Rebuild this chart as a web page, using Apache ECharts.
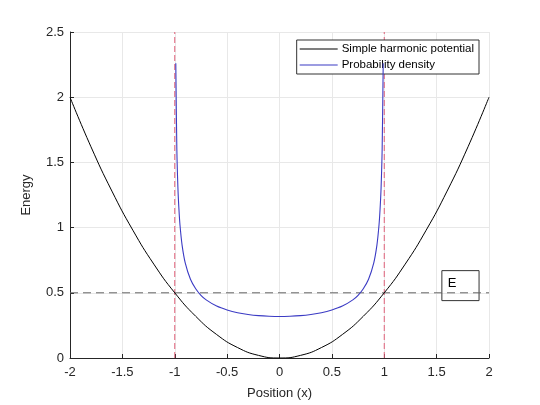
<!DOCTYPE html>
<html><head><meta charset="utf-8">
<script src="https://cdn.jsdelivr.net/npm/echarts@6/dist/echarts.min.js"></script>
<style>html,body{margin:0;padding:0;background:#fff}#c{width:540px;height:405px}</style>
</head><body><div id="c"></div>
<script>
// Simple harmonic potential
const potX = [-2,-1.8,-1.6,-1.4,-1.2,-1,-0.8,-0.6,-0.4,-0.2,0,0.2,0.4,0.6,0.8,1,1.2,1.4,1.6,1.8,2];
const potY = [2,1.62,1.28,0.98,0.72,0.5,0.32,0.18,0.08,0.02,0,0.02,0.08,0.18,0.32,0.5,0.72,0.98,1.28,1.62,2];
// Probability density
const denX = [-0.99,-0.98,-0.97,-0.96,-0.95,-0.93,-0.9,-0.85,-0.8,-0.75,-0.7,-0.6,-0.5,-0.4,-0.3,-0.2,-0.1,0,0.1,0.2,0.3,0.4,0.5,0.6,0.7,0.75,0.8,0.85,0.9,0.93,0.95,0.96,0.97,0.98,0.99];
const denY = [2.26,1.60,1.31,1.14,1.02,0.866,0.730,0.604,0.531,0.481,0.446,0.398,0.368,0.347,0.334,0.325,0.320,0.318,0.320,0.325,0.334,0.347,0.368,0.398,0.446,0.481,0.531,0.604,0.730,0.866,1.02,1.14,1.31,1.60,2.26];
// Reference lines
const turningPoints = [-1, 1];
const energyLevel = 0.5;
const xRange = [-2, 2];
const yRange = [0, 2.5];
const xTicks = ['-2','-1.5','-1','-0.5','0','0.5','1','1.5','2'];
const yTicks = ['0','0.5','1','1.5','2','2.5'];
const seriesNames = ['Simple harmonic potential', 'Probability density'];
const boxLabel = 'E';

const zip = (a, b) => a.map((v, i) => [v, b[i]]);
const font = 'Liberation Sans, Arial, sans-serif';
const chart = echarts.init(document.getElementById('c'));
const series = [
  { name: seriesNames[0], type: 'line', data: zip(potX, potY), smooth: true, symbol: 'none',
    lineStyle: { color: '#000', width: 1 }, itemStyle: { color: '#000' }, z: 3 },
  { name: seriesNames[1], type: 'line', data: zip(denX, denY), smooth: 0.3, symbol: 'none',
    lineStyle: { color: '#3b3bc4', width: 1.1 }, itemStyle: { color: '#3b3bc4' }, z: 4 }
];
turningPoints.forEach(tp => series.push({
  type: 'line', data: [[tp, yRange[0]], [tp, yRange[1]]], symbol: 'none', silent: true,
  lineStyle: { color: '#e0607a', width: 1, type: [6, 3] }, z: 2
}));
series.push({
  type: 'line', data: [[xRange[0], energyLevel], [xRange[1], energyLevel]], symbol: 'none', silent: true,
  lineStyle: { color: '#666', width: 1, type: [8, 5] }, z: 2
});

chart.setOption({
  animation: false,
  textStyle: { fontFamily: font },
  grid: { left: 70, right: 51, top: 32, bottom: 45 },
  legend: {
    data: seriesNames, orient: 'vertical', right: 61, top: 40,
    backgroundColor: '#fff', borderColor: '#333', borderWidth: 1,
    padding: [3, 5, 3, 3], itemGap: 4, itemWidth: 38, itemHeight: 1, icon: 'rect',
    textStyle: { fontSize: 11.5, color: '#000', fontFamily: font, padding: [0, 0, 0, -1] }
  },
  xAxis: {
    type: 'value', min: xRange[0], max: xRange[1], interval: 0.5,
    name: 'Position (x)', nameLocation: 'middle', nameGap: 29,
    nameTextStyle: { fontSize: 13, color: '#262626' },
    axisLine: { onZero: false, lineStyle: { color: '#262626' } },
    axisTick: { inside: true, length: 4, lineStyle: { color: '#262626' } },
    axisLabel: { fontSize: 13, color: '#262626', margin: 8, formatter: v => xTicks[Math.round((v - xRange[0]) / 0.5)] },
    splitLine: { lineStyle: { color: '#e8e8e8' } }
  },
  yAxis: {
    type: 'value', min: yRange[0], max: yRange[1], interval: 0.5,
    name: 'Energy', nameLocation: 'middle', nameGap: 37,
    nameTextStyle: { fontSize: 13, color: '#262626' },
    axisLine: { show: true, onZero: false, lineStyle: { color: '#262626' } },
    axisTick: { show: true, inside: true, length: 4, lineStyle: { color: '#262626' } },
    axisLabel: { fontSize: 13, color: '#262626', margin: 6, formatter: v => yTicks[Math.round(v / 0.5)] },
    splitLine: { lineStyle: { color: '#e8e8e8' } }
  },
  series: series
});

// E label box anchored in data coordinates
const p1 = chart.convertToPixel({ gridIndex: 0 }, [1.55, 0.67]);
const p2 = chart.convertToPixel({ gridIndex: 0 }, [1.905, 0.44]);
chart.setOption({
  graphic: [{
    type: 'group', z: 100,
    children: [
      { type: 'rect', shape: { x: p1[0], y: p1[1], width: p2[0] - p1[0], height: p2[1] - p1[1] },
        style: { fill: 'rgba(0,0,0,0)', stroke: '#333', lineWidth: 1 } },
      { type: 'text', x: p1[0] + 6, y: p1[1] + 6,
        style: { text: boxLabel, fontSize: 13, fill: '#000', fontFamily: font } }
    ]
  }]
});
</script></body></html>
